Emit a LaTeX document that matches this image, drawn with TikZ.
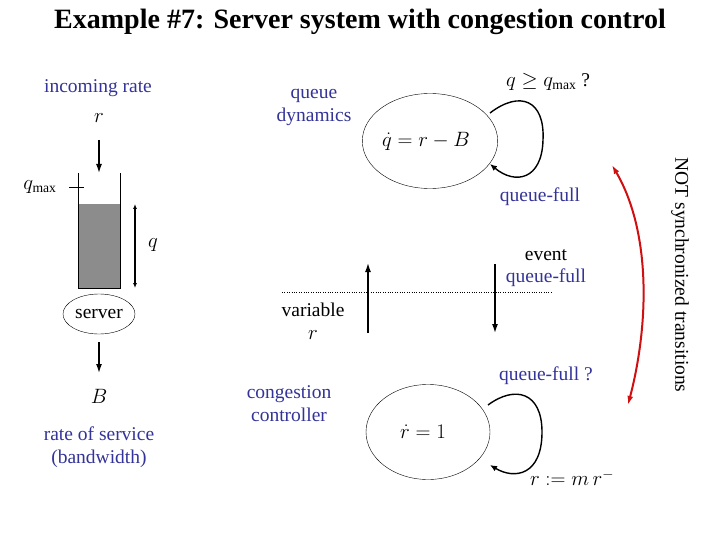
\documentclass[tikz,border=0pt]{standalone}
\usepackage{fontspec}
\setmainfont{Liberation Serif}
\usetikzlibrary{arrows.meta,shapes.geometric}
\definecolor{txtblue}{HTML}{333399}
\definecolor{arrred}{HTML}{D01010}
\begin{document}
\begin{tikzpicture}[x=1pt,y=-1pt,
  lbl/.style={font=\fontsize{19.5}{23}\selectfont, align=center, inner sep=1pt},
  blbl/.style={lbl, text=txtblue},
  arr/.style={-{Latex[length=9pt,width=6pt]}, line width=1.4pt},
  loop/.style={-{Latex[length=7pt,width=6pt]}, line width=1.4pt},
  st/.style={draw, ellipse, minimum width=124pt, minimum height=95pt, inner sep=0pt, font=\fontsize{22}{26}\selectfont}]
\useasboundingbox (0,0) rectangle (720,540);
\node[font=\bfseries\fontsize{28}{32}\selectfont] (title) at (360,22) {Example \#7: Server system with congestion control};
% queue
\fill[gray!90] (78,204) rectangle (120,288);
\draw (78,173) -- (78,288) -- (120,288) -- (120,173);
\coordinate (tk1) at (69,187); \coordinate (tk2) at (84,187);
\draw (tk1) -- (tk2);
\node[lbl] (qmax) at (40,187) {$q_{\max}$};
\coordinate (in1) at (99,140); \coordinate (in2) at (99,173);
\draw[arr] (in1) -- (in2);
\node[blbl] (inc) at (98,88) {incoming rate};
\node[lbl] (r) at (99,118) {$r$};
\coordinate (qa) at (135,204); \coordinate (qb) at (135,288);
\draw[{Latex[length=5pt,width=4pt]}-{Latex[length=5pt,width=4pt]}, line width=1.4pt] (qa) -- (qb);
\node[lbl] (q) at (153,245) {$q$};
\node[draw, ellipse, minimum width=72pt, minimum height=40pt, inner sep=0pt, lbl] (server) at (99,314) {server};
\coordinate (o1) at (99,342); \coordinate (o2) at (99,373);
\draw[arr] (o1) -- (o2);
\node[lbl] (B) at (99,396) {$B$};
\node[blbl] (ros) at (99,447) {rate of service\\(bandwidth)};
% automata
\node[blbl] (qd) at (314,107) {queue\\dynamics};
\node[st] (top) at (430,141) {$\dot q = r - B$\hspace*{8pt}};
\draw[loop] (490,113) .. controls (520,90) and (545,100) .. (543,140) .. controls (542,180) and (515,185) .. (490,164);
\node[lbl] (guard1) at (548,82) {$q \ge q_{\max}$ ?};
\node[blbl] (qf1) at (540,197) {queue-full};
\coordinate (u1) at (368,333); \coordinate (u2) at (368,263);
\draw[arr] (u1) -- (u2);
\coordinate (d1) at (495,264); \coordinate (d2) at (495,333);
\draw[arr] (d1) -- (d2);
\coordinate (dl1) at (282,292); \coordinate (dl2) at (552,292);
\draw[dotted] (dl1) -- (dl2);
\node[lbl] (ev) at (546,255) {event};
\node[blbl] (qf2) at (546,278) {queue-full};
\node[lbl] (var) at (313,321) {variable\\$r$};
\node[blbl] (cc) at (289,404) {congestion\\controller};
\node[st] (bot) at (428,432) {$\dot r = 1$\hspace*{10pt}};
\draw[loop] (488,405) .. controls (515,385) and (542,392) .. (542,432) .. controls (542,475) and (515,480) .. (490,465);
\node[blbl] (qf3) at (546,376) {queue-full ?};
\node[lbl] (reset) at (572,478) {$r := m\,r^{-}$};
% red arrow
\coordinate (ra) at (612,165); \coordinate (rb) at (628,405);
\draw[{Latex[length=9pt,width=6pt]}-{Latex[length=9pt,width=6pt]}, line width=2pt, arrred] (ra) .. controls (650,230) and (650,320) .. (rb);
\node[lbl, rotate=-90] (nst) at (680,275) {NOT synchronized transitions};
\end{tikzpicture}
\end{document}
